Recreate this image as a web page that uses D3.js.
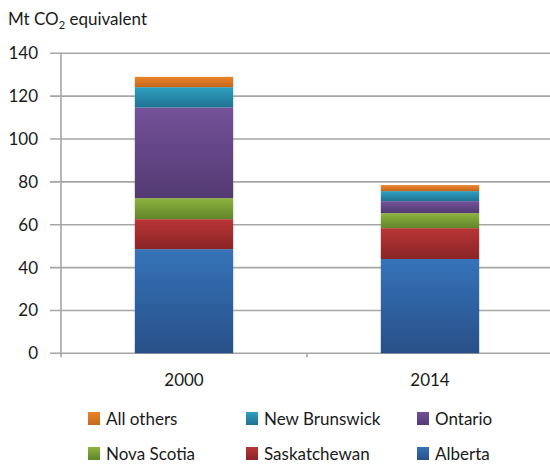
<!DOCTYPE html>
<html>
<head>
<meta charset="utf-8">
<script src="https://cdn.jsdelivr.net/npm/d3@7"></script>
<style>
  body { margin: 0; background: #fff; }
  svg text { font-family: Lato, "Open Sans", sans-serif; fill: #1a1a1a; }
</style>
</head>
<body>
<svg id="chart" width="550" height="464"></svg>
<script>
const years = ["2000", "2014"];
const provinces = ["Alberta", "Saskatchewan", "Nova Scotia", "Ontario", "New Brunswick", "All others"];
const alberta = [48.6, 44.0];
const saskatchewan = [14.0, 14.4];
const novaScotia = [9.8, 7.0];
const ontario = [42.3, 5.6];
const newBrunswick = [9.5, 4.7];
const allOthers = [4.8, 2.8];
const yTicks = [0, 20, 40, 60, 80, 100, 120, 140];
const legendOrder = ["All others", "New Brunswick", "Ontario", "Nova Scotia", "Saskatchewan", "Alberta"];

const colors = {
    "Alberta": ["#3573b9", "#285088"],
    "Saskatchewan": ["#b93536", "#8a2425"],
    "Nova Scotia": ["#8db33f", "#618529"],
    "Ontario": ["#745199", "#533a72"],
    "New Brunswick": ["#2fa1c2", "#1f7190"],
    "All others": ["#ec8429", "#c3671c"]
};

const series = [alberta, saskatchewan, novaScotia, ontario, newBrunswick, allOthers];
const table = years.map((y, i) => {
    const row = { year: y };
    provinces.forEach((p, j) => row[p] = series[j][i]);
    return row;
});

const svg = d3.select("#chart");
const defs = svg.append("defs");
provinces.forEach((p, i) => {
    const g = defs.append("linearGradient")
        .attr("id", "grad-" + i)
        .attr("x1", 0).attr("y1", 0).attr("x2", 0).attr("y2", 1);
    g.append("stop").attr("offset", "0%").attr("stop-color", colors[p][0]);
    g.append("stop").attr("offset", "100%").attr("stop-color", colors[p][1]);
});
const gradOf = p => "url(#grad-" + provinces.indexOf(p) + ")";

const x = d3.scaleBand().domain(years).range([61, 553]).paddingInner(0.6).paddingOuter(0.3);
const y = d3.scaleLinear().domain([0, 140]).range([353.3, 53.3]);

// gridlines
svg.append("g")
    .selectAll("line")
    .data(yTicks)
    .enter().append("line")
    .attr("x1", 50).attr("x2", 550)
    .attr("y1", d => y(d)).attr("y2", d => y(d))
    .attr("stroke", "#a6a6a6")
    .attr("stroke-width", 1.6);

// y axis line
svg.append("line")
    .attr("x1", 61).attr("x2", 61)
    .attr("y1", y(140)).attr("y2", y(0) + 4)
    .attr("stroke", "#a6a6a6")
    .attr("stroke-width", 1.6);

// category boundary tick
svg.append("line")
    .attr("x1", 307).attr("x2", 307)
    .attr("y1", y(0)).attr("y2", y(0) + 4)
    .attr("stroke", "#a6a6a6")
    .attr("stroke-width", 1.6);

svg.append("g")
    .selectAll("text")
    .data(yTicks)
    .enter().append("text")
    .attr("x", 38)
    .attr("y", d => y(d) + 6)
    .attr("text-anchor", "end")
    .style("font-size", "17px")
    .text(d => d);

const stack = d3.stack().keys(provinces)(table);

svg.append("g")
    .selectAll("g")
    .data(stack)
    .enter().append("g")
    .attr("fill", d => gradOf(d.key))
    .selectAll("rect")
    .data(d => d)
    .enter().append("rect")
    .attr("x", d => x(d.data.year))
    .attr("width", x.bandwidth())
    .attr("y", d => y(d[1]))
    .attr("height", d => y(d[0]) - y(d[1]));

svg.append("g")
    .selectAll("text")
    .data(years)
    .enter().append("text")
    .attr("x", d => x(d) + x.bandwidth() / 2)
    .attr("y", 386)
    .attr("text-anchor", "middle")
    .style("font-size", "17px")
    .text(d => d);

// title
const title = svg.append("text")
    .attr("x", 8)
    .attr("y", 25)
    .style("font-size", "17px");
title.append("tspan").text("Mt CO");
title.append("tspan").attr("dy", 4).style("font-size", "11px").text("2");
title.append("tspan").attr("dy", -4).text(" equivalent");

// legend
const colX = [88, 246, 417];
const rowY = [425, 460];
const legend = svg.append("g")
    .selectAll("g")
    .data(legendOrder)
    .enter().append("g")
    .attr("transform", (d, i) => `translate(${colX[i % 3]}, ${rowY[Math.floor(i / 3)]})`);
legend.append("rect")
    .attr("x", 0).attr("y", -13)
    .attr("width", 12).attr("height", 13)
    .attr("fill", d => gradOf(d));
legend.append("text")
    .attr("x", 18).attr("y", 0)
    .style("font-size", "17px")
    .text(d => d);
</script>
</body>
</html>
